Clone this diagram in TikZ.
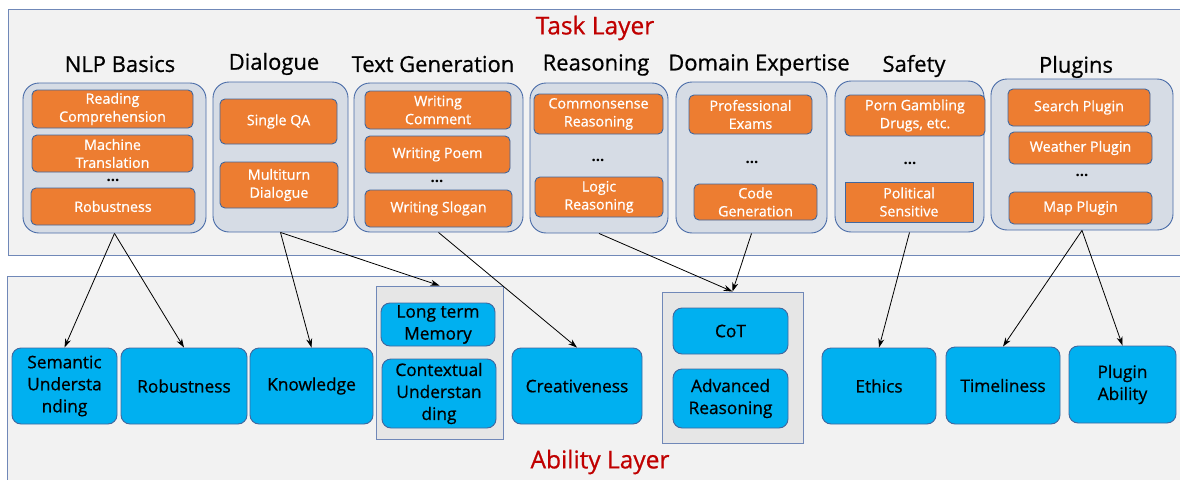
\documentclass[tikz,border=0pt]{standalone}
\usepackage{fontspec}
\setmainfont{Open Sans}
\newfontfamily\medfont[FakeBold=0.7]{Open Sans}
\usetikzlibrary{arrows.meta}
\definecolor{layerfill}{HTML}{F2F2F2}
\definecolor{layerline}{HTML}{7088B8}
\definecolor{grpfill}{HTML}{D6DCE5}
\definecolor{grpline}{HTML}{4A6CA8}
\definecolor{orng}{HTML}{ED7D31}
\definecolor{boxline}{HTML}{41679E}
\definecolor{skyb}{HTML}{00B0F0}
\definecolor{greyfill}{HTML}{E6E6E6}
\definecolor{titlered}{HTML}{C00000}
\tikzset{
  layer/.style={draw=layerline, fill=layerfill, line width=1pt},
  grp/.style={draw=grpline, fill=grpfill, rounded corners=16pt, line width=0.9pt, inner sep=0pt},
  obox/.style={draw=boxline, fill=orng, rounded corners=5pt, line width=0.9pt, text=white, align=center,
    font=\medfont\fontsize{14.3}{18}\selectfont, inner sep=0pt},
  bbox/.style={draw=boxline, fill=skyb, rounded corners=9pt, line width=0.9pt, text=black, align=center,
    font=\medfont\fontsize{17.3}{22}\selectfont, inner sep=0pt},
  gbox/.style={draw=layerline, fill=greyfill, line width=0.9pt, inner sep=0pt},
  cattitle/.style={font=\medfont\fontsize{22}{26}\selectfont, text=black, inner sep=0pt},
  laytitle/.style={font=\medfont\fontsize{24.5}{28}\selectfont, text=titlered, inner sep=0pt},
  dotsn/.style={font=\fontsize{15}{18}\selectfont\bfseries, inner sep=0pt},
  arr/.style={-{Stealth[length=9pt,width=6pt]}, line width=0.8pt, black},
}
\begin{document}
\begin{tikzpicture}[x=1pt,y=-1pt]
\useasboundingbox (0,0) rectangle (1180,479);
% layers
\draw[layer] (8,9) rectangle (1195,255);
\draw[layer] (7,276) rectangle (1195,495);
\node[laytitle] (tasktitle) at (595,28) {Task Layer};
\node[laytitle] (abtitle) at (600,462) {Ability Layer};

% category titles
\node[cattitle] (tnlp) at (120,64) {NLP Basics};
\node[cattitle] (tdia) at (274,64) {Dialogue};
\node[cattitle] (ttxt) at (433,64) {Text Generation};
\node[cattitle] (trea) at (596,65) {Reasoning};
\node[cattitle] (tdom) at (759,65) {Domain Expertise};
\node[cattitle] (tsaf) at (914,66) {Safety};
\node[cattitle] (tplu) at (1076,67) {Plugins};

% groups
\node[grp, minimum width=183pt, minimum height=150pt] (gnlp) at (114.5,158) {};
\node[grp, minimum width=135pt, minimum height=150pt] (gdia) at (280.5,157) {};
\node[grp, minimum width=169pt, minimum height=149pt] (gtxt) at (438.5,157.5) {};
\node[grp, minimum width=138pt, minimum height=150pt] (grea) at (599,158) {};
\node[grp, minimum width=151pt, minimum height=151pt] (gdom) at (751.5,157.5) {};
\node[grp, minimum width=149pt, minimum height=151pt] (gsaf) at (909.5,156.5) {};
\node[grp, minimum width=182pt, minimum height=151pt] (gplu) at (1082,154.5) {};

% NLP basics
\node[obox, minimum width=161pt, minimum height=38pt] (rc) at (112.5,109) {Reading\\Comprehension};
\node[obox, minimum width=161pt, minimum height=37pt] (mt) at (112.5,153.5) {Machine\\Translation};
\node[dotsn] (d1) at (113,180) {...};
\node[obox, minimum width=164pt, minimum height=37pt] (rob) at (113,206.5) {Robustness};
% Dialogue
\node[obox, minimum width=117pt, minimum height=45pt] (sqa) at (278.5,121.5) {Single QA};
\node[obox, minimum width=118pt, minimum height=46pt] (mtd) at (279,185) {Multiturn\\Dialogue};
% Text generation
\node[obox, minimum width=146pt, minimum height=38pt] (wc) at (438,110) {Writing\\Comment};
\node[obox, minimum width=145pt, minimum height=37pt] (wp) at (437.5,154.5) {Writing Poem};
\node[dotsn] (d2) at (437,181) {...};
\node[obox, minimum width=147pt, minimum height=37pt] (ws) at (438.5,208.5) {Writing Slogan};
% Reasoning
\node[obox, minimum width=129pt, minimum height=40pt] (cr) at (598.5,114) {Commonsense\\Reasoning};
\node[dotsn] (d3) at (598,160) {...};
\node[obox, minimum width=128pt, minimum height=40pt] (lr) at (599,197) {Logic\\Reasoning};
% Domain
\node[obox, minimum width=123pt, minimum height=39pt] (pe) at (750.5,114.5) {Professional\\Exams};
\node[dotsn] (d4) at (752,162) {...};
\node[obox, minimum width=123pt, minimum height=36pt] (cg) at (755.5,202) {Code\\Generation};
% Safety
\node[obox, minimum width=140pt, minimum height=41pt] (pg) at (915,115.5) {Porn Gambling\\Drugs, etc.};
\node[dotsn] (d5) at (910,163) {...};
\node[obox, rounded corners=0pt, minimum width=128pt, minimum height=40pt] (ps) at (909,202) {Political\\Sensitive};
% Plugins
\node[obox, minimum width=142pt, minimum height=37pt] (sp) at (1079,107.5) {Search Plugin};
\node[obox, minimum width=143pt, minimum height=32pt] (wpl) at (1080.5,148) {Weather Plugin};
\node[dotsn] (d6) at (1082,175) {...};
\node[obox, minimum width=143pt, minimum height=32pt] (mp) at (1080.5,208) {Map Plugin};

% Ability layer
\node[bbox, minimum width=105pt, minimum height=76pt] (su) at (64.5,386) {Semantic\\Understa\\nding};
\node[bbox, minimum width=126pt, minimum height=76pt] (rb) at (184,386) {Robustness};
\node[bbox, minimum width=123pt, minimum height=76pt] (kn) at (311.5,386) {Knowledge};
\node[gbox, minimum width=127pt, minimum height=153pt] (glt) at (439.5,362.5) {};
\node[bbox, minimum width=114pt, minimum height=43pt] (ltm) at (438,324.5) {Long term\\Memory};
\node[bbox, minimum width=114pt, minimum height=69pt] (cu) at (439,393.5) {Contextual\\Understan\\ding};
\node[bbox, minimum width=130pt, minimum height=76pt] (cre) at (577,386) {Creativeness};
\node[gbox, minimum width=141pt, minimum height=151pt] (gcot) at (732.5,367.5) {};
\node[bbox, minimum width=115pt, minimum height=46pt] (cot) at (730.5,331) {CoT};
\node[bbox, minimum width=115pt, minimum height=59pt] (ar) at (730.5,398.5) {Advanced\\Reasoning};
\node[bbox, minimum width=114pt, minimum height=76pt] (eth) at (879,386) {Ethics};
\node[bbox, minimum width=114pt, minimum height=77pt] (tim) at (1003,385.5) {Timeliness};
\node[bbox, minimum width=107pt, minimum height=77pt] (pa) at (1122.5,384.5) {Plugin\\Ability};

% arrows
\draw[arr] (gnlp.south) -- (su.north);
\draw[arr] (gnlp.south) -- (rb.north);
\draw[arr] (gdia.south) -- (kn.north);
\draw[arr] (gdia.south) -- (glt.north);
\draw[arr] (gtxt.south) -- (cre.north);
\draw[arr] (grea.south) -- (gcot.north);
\draw[arr] (gdom.south) -- (gcot.north);
\draw[arr] (gsaf.south) -- (eth.north);
\draw[arr] (gplu.south) -- (tim.north);
\draw[arr] (gplu.south) -- (pa.north);
\end{tikzpicture}
\end{document}
